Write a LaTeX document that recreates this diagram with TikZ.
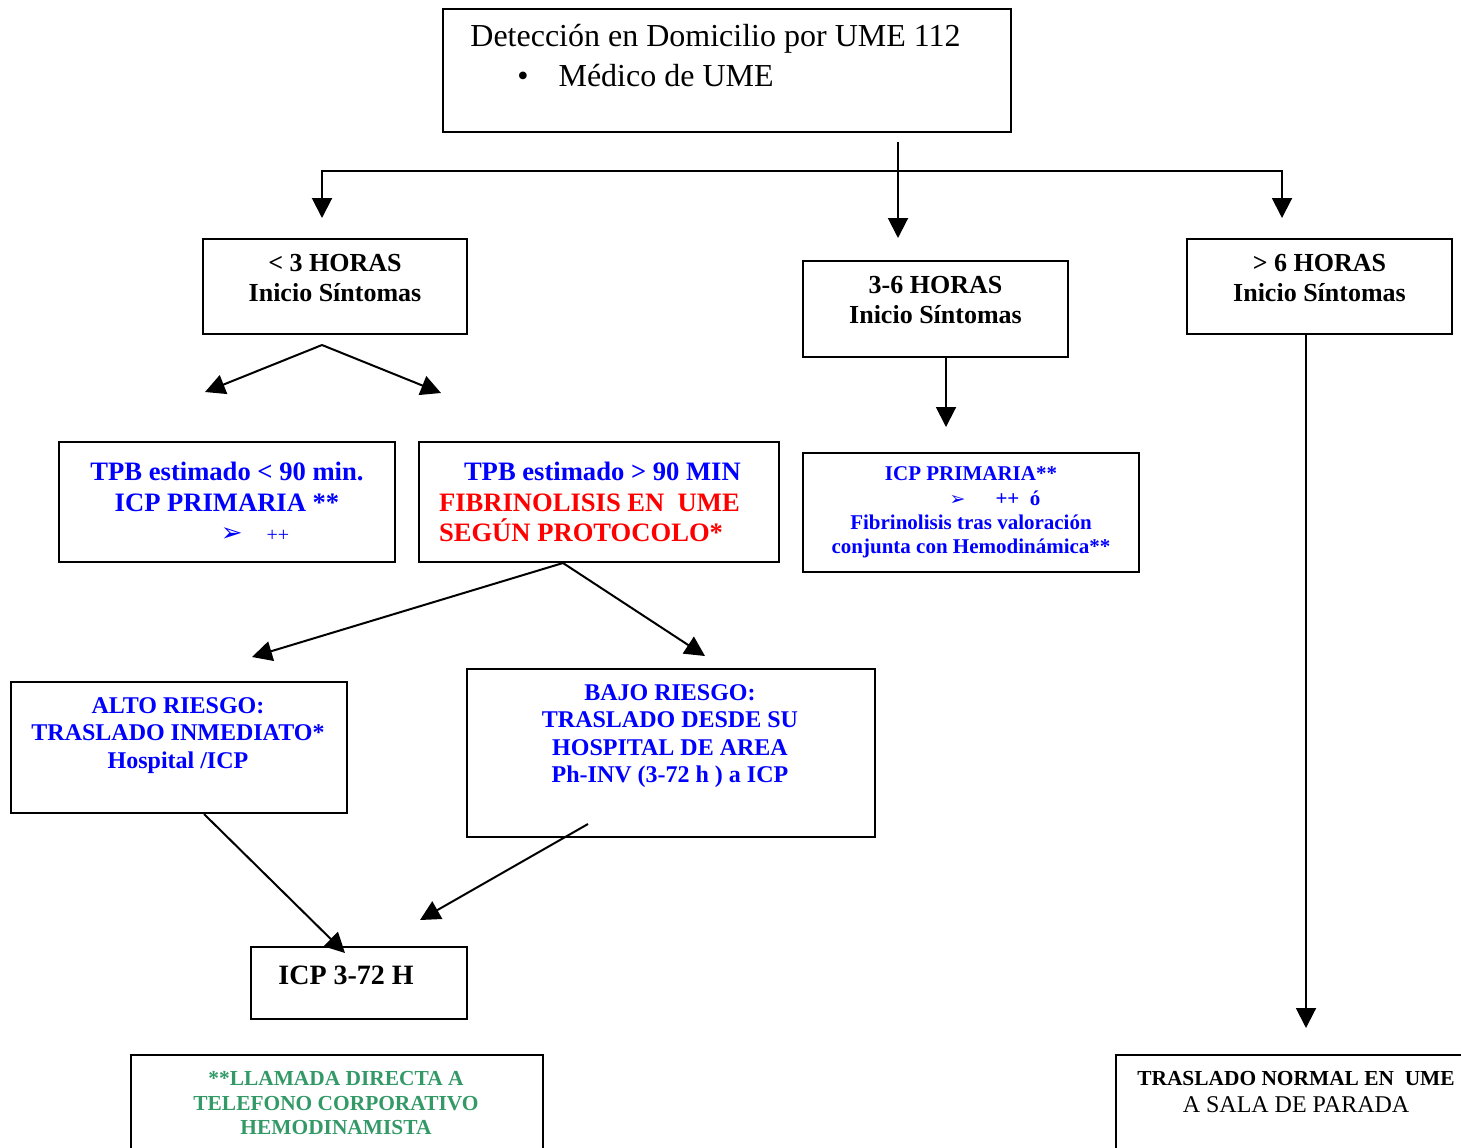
\documentclass[tikz,border=0pt]{standalone}
\usepackage{fontspec}
\setmainfont{Liberation Serif}
\newfontfamily\simbolos{DejaVu Sans}
\usetikzlibrary{arrows.meta}

\definecolor{verdeume}{RGB}{51,153,102}

\tikzset{
    caja/.style={draw, line width=1pt, inner sep=0pt, anchor=north west},
    flecha/.style={line width=1pt, -{Triangle[length=10pt,width=10pt]}},
    azul/.style={text=blue, align=center, inner sep=0pt,
        font=\bfseries\fontsize{13.3}{15.3}\selectfont},
    negro/.style={align=center, inner sep=0pt,
        font=\bfseries\fontsize{13}{15}\selectfont}
}

\begin{document}
\begin{tikzpicture}[x=0.5pt, y=-0.5pt]
    \useasboundingbox (0,0) rectangle (1461,1147);

    % Nodes
    \node[caja, minimum width=284pt, minimum height=61.5pt] (det) at (442,8) {};
    \node[anchor=north west, align=left, inner sep=0pt,
          font=\fontsize{16}{20}\selectfont] (dettxt) at (470,24)
        {Detección en Domicilio por UME 112\\
         \hspace*{23.5pt}\textbullet\hspace{15pt}Médico de UME};

    \node[caja, negro, minimum width=132pt, minimum height=47.5pt] (h3) at (202,238)
        {< 3 HORAS\\Inicio Síntomas\\[-6pt]};
    \node[caja, negro, minimum width=132.5pt, minimum height=48pt] (h36) at (802,260)
        {3-6 HORAS\\Inicio Síntomas\\[-6pt]};
    \node[caja, negro, minimum width=132.5pt, minimum height=47.5pt] (h6) at (1186,238)
        {> 6 HORAS\\Inicio Síntomas\\[-6pt]};

    \node[caja, azul, minimum width=168pt, minimum height=60pt] (tpb1) at (58,441)
        {TPB estimado < 90 min.\\ICP PRIMARIA **\\
         \hspace*{28pt}{\simbolos\mdseries\fontsize{13}{15.5}\selectfont ➢}\hspace{12pt}{\mdseries\fontsize{10}{12}\selectfont ++}};
    \node[caja, azul, align=flush left, text width=160pt, minimum width=180pt, minimum height=60pt] (tpb2) at (418,441)
        {\hspace*{12.5pt}TPB estimado > 90 MIN\\
         \textcolor{red}{FIBRINOLISIS EN~~UME}\\
         \textcolor{red}{SEGÚN PROTOCOLO*}};
    \node[caja, azul, font=\bfseries\fontsize{10.5}{12.2}\selectfont,
          minimum width=168pt, minimum height=59.5pt] (icp36) at (802,452)
        {ICP PRIMARIA**\\
         \hspace*{24pt}{\simbolos\mdseries\fontsize{9.5}{12}\selectfont ➢}\hspace{15pt}++~~ó\\
         Fibrinolisis tras valoración\\conjunta con Hemodinámica**};

    \node[caja, minimum width=168pt, minimum height=65.5pt] (alto) at (10,681) {};
    \node[azul, anchor=north, font=\bfseries\fontsize{12}{13.7}\selectfont] (altotxt) at (178,697)
        {ALTO RIESGO:\\TRASLADO INMEDIATO*\\Hospital /ICP};

    \node[caja, minimum width=204pt, minimum height=84pt] (bajo) at (466,668) {};
    \node[azul, anchor=north, font=\bfseries\fontsize{12}{13.7}\selectfont] (bajotxt) at (670,684)
        {BAJO RIESGO:\\TRASLADO DESDE SU\\HOSPITAL DE AREA\\Ph-INV (3-72 h ) a ICP};

    \node[caja, minimum width=108pt, minimum height=36pt] (icp372) at (250,946) {};
    \node[anchor=west, inner sep=0pt, font=\bfseries\fontsize{14}{16}\selectfont] (icp372txt) at (278,975)
        {ICP 3-72 H};

    \node[caja, minimum width=206pt, minimum height=60pt] (llamada) at (130,1054) {};
    \node[anchor=north, align=center, inner sep=0pt, text=verdeume,
          font=\bfseries\fontsize{10.7}{12.3}\selectfont] (llamadatxt) at (336,1071)
        {**LLAMADA DIRECTA A\\TELEFONO CORPORATIVO\\HEMODINAMISTA};

    \node[caja, minimum width=180pt, minimum height=60pt] (traslado) at (1115,1054) {};
    \node[anchor=north, align=center, inner sep=0pt,
          font=\fontsize{10.7}{13.5}\selectfont] (trasladotxt) at (1296,1071)
        {\textbf{TRASLADO NORMAL EN~~UME}\\{\fontsize{12}{13.5}\selectfont A SALA DE PARADA}};

    % Free ends of the connectors
    \coordinate (dsal) at (898,142);
    \coordinate (ramal) at (898,171);
    \coordinate (t3) at (322,218);
    \coordinate (t36) at (898,238);
    \coordinate (t6) at (1282,218);
    \coordinate (v3) at (322,345);
    \coordinate (tA) at (205,392);
    \coordinate (tB) at (441,393);
    \coordinate (ticp36) at (946,427);
    \coordinate (tllegada) at (1306,1028);
    \coordinate (talto) at (252,657);
    \coordinate (tbajo) at (705,656);
    \coordinate (ticpA) at (345,953);
    \coordinate (ticpB) at (420,920);

    % Connectors
    \draw[flecha] (dsal) -- (t36);
    \draw[flecha] (ramal) -| (t3);
    \draw[flecha] (ramal) -| (t6);

    \draw[flecha] (v3) -- (tA);
    \draw[flecha] (v3) -- (tB);

    \draw[flecha] (h36.south -| ticp36) -- (ticp36);
    \draw[flecha] (h6.south -| tllegada) -- (tllegada);

    \draw[flecha] ([xshift=-18pt]tpb2.south) -- (talto);
    \draw[flecha] ([xshift=-18pt]tpb2.south) -- (tbajo);

    \draw[flecha] ([xshift=12.5pt]alto.south) -- (ticpA);
    \draw[flecha] ([xshift=-41.5pt,yshift=7pt]bajo.south) -- (ticpB);
\end{tikzpicture}
\end{document}
